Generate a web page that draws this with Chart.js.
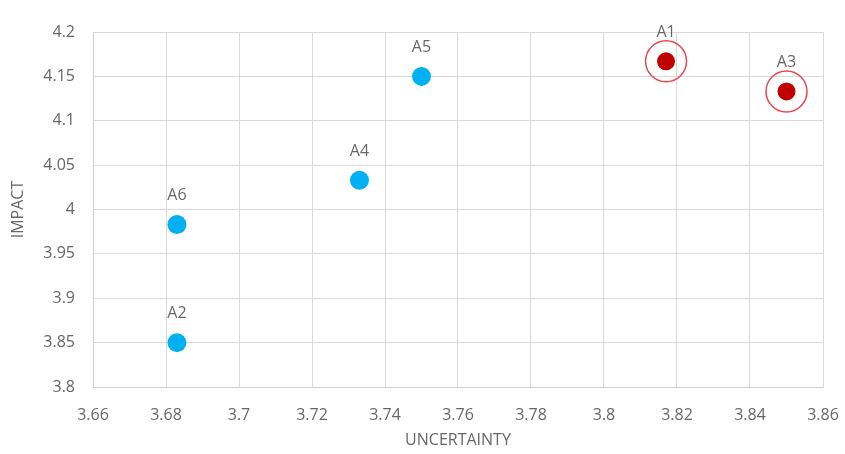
<!DOCTYPE html>
<html>
<head>
<meta charset="utf-8">
<script src="https://cdn.jsdelivr.net/npm/chart.js@4.4.1/dist/chart.umd.min.js"></script>
<style>
  html, body { margin: 0; padding: 0; background: #ffffff; }
  #wrap { position: relative; width: 845px; height: 454px; }
</style>
</head>
<body>
<div id="wrap"><canvas id="c" width="845" height="454"></canvas></div>
<script>
// Alternatives plotted by uncertainty (x) against impact (y)
const lowLabels = ['A2', 'A4', 'A5', 'A6'];
const lowUncertainty = [3.683, 3.733, 3.75, 3.683];
const lowImpact = [3.85, 4.033, 4.15, 3.983];

const highLabels = ['A1', 'A3'];
const highUncertainty = [3.817, 3.85];
const highImpact = [4.167, 4.133];

const xTicks = [3.66, 3.68, 3.7, 3.72, 3.74, 3.76, 3.78, 3.8, 3.82, 3.84, 3.86];
const yTicks = [3.8, 3.85, 3.9, 3.95, 4, 4.05, 4.1, 4.15, 4.2];

const toPoints = (xs, ys, names) => xs.map((x, i) => ({ x: x, y: ys[i], name: names[i] }));

const FONT = "'Open Sans', 'Noto Sans', sans-serif";
const GREY = '#676767';

// Writes each point's name above its marker
const pointNames = {
  id: 'pointNames',
  afterDatasetsDraw(chart) {
    const ctx = chart.ctx;
    ctx.save();
    ctx.font = '16px ' + FONT;
    ctx.fillStyle = GREY;
    ctx.textAlign = 'center';
    ctx.textBaseline = 'middle';
    chart.data.datasets.forEach((ds, di) => {
      if (!ds.named) return;
      const meta = chart.getDatasetMeta(di);
      meta.data.forEach((el, i) => {
        ctx.fillText(ds.data[i].name, el.x, el.y - ds.labelOffset);
      });
    });
    ctx.restore();
  }
};

new Chart(document.getElementById('c'), {
  type: 'scatter',
  data: {
    datasets: [
      {
        data: toPoints(lowUncertainty, lowImpact, lowLabels),
        backgroundColor: '#00b0f0',
        borderColor: '#00b0f0',
        borderWidth: 0,
        pointRadius: 9.5,
        pointHoverRadius: 9.5,
        named: true,
        labelOffset: 29
      },
      {
        data: toPoints(highUncertainty, highImpact, highLabels),
        backgroundColor: '#c00000',
        borderColor: '#c00000',
        borderWidth: 0,
        pointRadius: 9,
        pointHoverRadius: 9,
        named: true,
        labelOffset: 29
      },
      {
        // highlight rings around the two top alternatives
        data: toPoints(highUncertainty, highImpact, highLabels),
        backgroundColor: 'rgba(0,0,0,0)',
        borderColor: '#e6474e',
        borderWidth: 1.5,
        pointRadius: 20.5,
        pointHoverRadius: 20.5
      }
    ]
  },
  options: {
    responsive: false,
    animation: false,
    events: [],
    layout: { padding: { top: 32, right: 22, left: 0, bottom: 0 } },
    plugins: {
      legend: { display: false },
      tooltip: { enabled: false }
    },
    scales: {
      x: {
        type: 'linear',
        min: xTicks[0],
        max: xTicks[xTicks.length - 1],
        afterBuildTicks: (s) => { s.ticks = xTicks.map(v => ({ value: v })); },
        afterFit: (s) => { s.height = 67; s.paddingLeft = 0; s.paddingRight = 0; },
        grid: { color: '#d9d9d9', lineWidth: 1, drawTicks: false },
        border: { color: '#d0d0d0' },
        ticks: {
          padding: 19,
          color: GREY,
          font: { family: FONT, size: 16 },
          callback: (v) => String(+v.toFixed(2))
        },
        title: {
          display: true,
          text: 'UNCERTAINTY',
          color: GREY,
          font: { family: FONT, size: 16 },
          padding: { top: 4, bottom: 4 }
        }
      },
      y: {
        type: 'linear',
        min: yTicks[0],
        max: yTicks[yTicks.length - 1],
        afterBuildTicks: (s) => { s.ticks = yTicks.map(v => ({ value: v })); },
        afterFit: (s) => { s.width = 93; s.paddingTop = 0; s.paddingBottom = 0; },
        grid: { color: '#d9d9d9', lineWidth: 1, drawTicks: false },
        border: { color: '#d0d0d0' },
        ticks: {
          padding: 18,
          color: GREY,
          font: { family: FONT, size: 16 },
          callback: (v) => String(+v.toFixed(2))
        },
        title: {
          display: true,
          text: 'IMPACT',
          color: GREY,
          font: { family: FONT, size: 16 },
          padding: { top: 9, bottom: 0 }
        }
      }
    }
  },
  plugins: [pointNames]
});
</script>
</body>
</html>
